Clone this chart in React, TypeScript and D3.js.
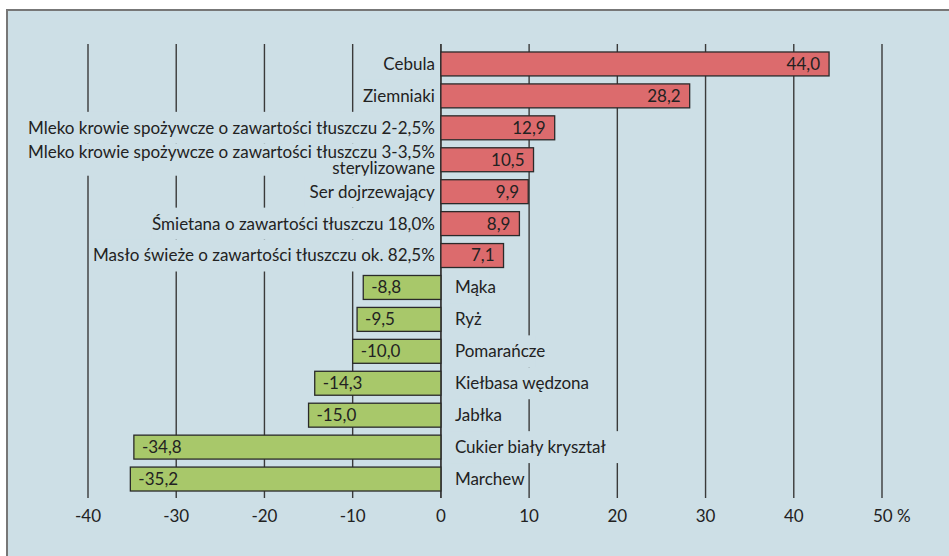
import * as d3 from "d3";

const categories = [
  "Cebula",
  "Ziemniaki",
  "Mleko krowie spożywcze o zawartości tłuszczu 2-2,5%",
  "Mleko krowie spożywcze o zawartości tłuszczu 3-3,5%\nsterylizowane",
  "Ser dojrzewający",
  "Śmietana o zawartości tłuszczu 18,0%",
  "Masło świeże o zawartości tłuszczu ok. 82,5%",
  "Mąka",
  "Ryż",
  "Pomarańcze",
  "Kiełbasa wędzona",
  "Jabłka",
  "Cukier biały kryształ",
  "Marchew",
];
const values = [44.0, 28.2, 12.9, 10.5, 9.9, 8.9, 7.1, -8.8, -9.5, -10.0, -14.3, -15.0, -34.8, -35.2];
const ticks = [-40, -30, -20, -10, 0, 10, 20, 30, 40, 50];

const W = 949;
const H = 556;
const BG = "#cddfe6";
const FONT = "Lato, 'Open Sans', sans-serif";

export default function App() {
  const x = d3.scaleLinear().domain([-40, 50]).range([88, 882]);
  const y = d3.scaleBand().domain(categories).range([44, 499]).padding(0.25);
  const fmt = (v: number) => d3.format(".1f")(v).replace(".", ",").replace("\u2212", "-");
  const x0 = x(0);
  const fs = 17;

  return (
    <svg width={W} height={H} style={{ position: "absolute", left: 0, top: 0, display: "block" }}>
      <rect x={0} y={0} width={W} height={H} fill="#fff" />
      <rect x={7} y={10} width={W + 10} height={H + 10} fill={BG} stroke="#777" strokeWidth={2} />
      {/* grid */}
      {ticks.map((t) => (
        <line key={t} x1={x(t)} x2={x(t)} y1={44} y2={498} stroke="#3a3a3a" strokeWidth={1.4} />
      ))}
      {/* category labels, with boxes in the background colour that break the grid */}
      {categories.map((c, i) => {
        const lines = c.split("\n");
        const pos = values[i] >= 0;
        const cy = (y(c) || 0) + y.bandwidth() / 2;
        const lh = 16;
        const longest = d3.max(lines, (l) => l.length) || 0;
        const w = longest * fs * 0.45 + 8;
        const tx = pos ? x0 - 6 : x0 + 14;
        const rx = pos ? Math.max(tx - w, 9) : tx - 4;
        return (
          <g key={c}>
            <rect
              x={rx}
              y={cy - y.step() / 2}
              width={pos ? tx - rx : w}
              height={y.step()}
              fill={BG}
            />
            {lines.map((l, j) => (
              <text
                key={j}
                x={tx}
                y={cy + (j - (lines.length - 1) / 2) * lh}
                dy="0.35em"
                textAnchor={pos ? "end" : "start"}
                fontFamily={FONT}
                fontSize={fs}
                fill="#222"
              >
                {l}
              </text>
            ))}
          </g>
        );
      })}
      {/* zero line */}
      <line x1={x0} x2={x0} y1={44} y2={498} stroke="#3a3a3a" strokeWidth={1.4} />
      {/* bars */}
      {categories.map((c, i) => {
        const v = values[i];
        const pos = v >= 0;
        const by = y(c) || 0;
        return (
          <g key={c}>
            <rect
              x={Math.min(x(v), x0)}
              y={by}
              width={Math.abs(x(v) - x0)}
              height={y.bandwidth()}
              fill={pos ? "#dc6b6d" : "#a8c86a"}
              stroke="#2a2a2a"
              strokeWidth={1.3}
            />
            <text
              x={pos ? x(v) - 9 : x(v) + 8}
              y={by + y.bandwidth() / 2}
              dy="0.35em"
              textAnchor={pos ? "end" : "start"}
              fontFamily={FONT}
              fontSize={fs}
              fill="#222"
            >
              {fmt(v)}
            </text>
          </g>
        );
      })}
      {/* axis tick labels */}
      {ticks.map((t) => (
        <text
          key={t}
          x={x(t)}
          y={516}
          dy="0.35em"
          textAnchor={t === 50 ? "start" : "middle"}
          dx={t === 50 ? -9 : 0}
          fontFamily={FONT}
          fontSize={fs}
          fill="#222"
        >
          {t === 50 ? "50 %" : String(t)}
        </text>
      ))}
    </svg>
  );
}
